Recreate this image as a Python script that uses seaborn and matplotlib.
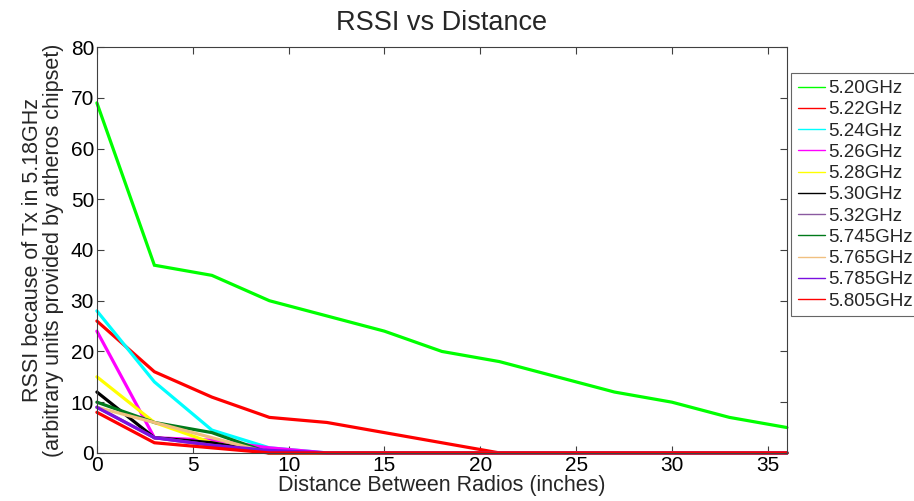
import matplotlib
matplotlib.use("Agg")
import matplotlib.pyplot as plt
from matplotlib.lines import Line2D
import seaborn as sns
import pandas as pd

# Distance between radios (inches)
distance = [0, 3, 6, 9, 12, 15, 18, 21, 24, 27, 30, 33, 36]

# RSSI per channel, measured while transmitting on 5.18GHz
rssi_520 = [69, 37, 35, 30, 27, 24, 20, 18, 15, 12, 10, 7, 5]
rssi_522 = [26, 16, 11, 7, 6, 4, 2, 0, 0, 0, 0, 0, 0]
rssi_524 = [28, 14, 4.5, 1, 0, 0, 0, 0, 0, 0, 0, 0, 0]
rssi_526 = [24, 3, 2.5, 1, 0, 0, 0, 0, 0, 0, 0, 0, 0]
rssi_528 = [15, 6, 2, 0, 0, 0, 0, 0, 0, 0, 0, 0, 0]
rssi_530 = [12, 3, 2, 0, 0, 0, 0, 0, 0, 0, 0, 0, 0]
rssi_532 = [9, 3, 1.5, 0, 0, 0, 0, 0, 0, 0, 0, 0, 0]
rssi_5745 = [10, 6, 4, 0, 0, 0, 0, 0, 0, 0, 0, 0, 0]
rssi_5765 = [9, 6, 3, 0, 0, 0, 0, 0, 0, 0, 0, 0, 0]
rssi_5785 = [9, 3, 1.5, 0.5, 0, 0, 0, 0, 0, 0, 0, 0, 0]
rssi_5805 = [8, 2, 1, 0, 0, 0, 0, 0, 0, 0, 0, 0, 0]

channels = ["5.20GHz", "5.22GHz", "5.24GHz", "5.26GHz", "5.28GHz", "5.30GHz",
            "5.32GHz", "5.745GHz", "5.765GHz", "5.785GHz", "5.805GHz"]
series = [rssi_520, rssi_522, rssi_524, rssi_526, rssi_528, rssi_530,
          rssi_532, rssi_5745, rssi_5765, rssi_5785, rssi_5805]
colors = ["#00ff00", "#ff0000", "#00ffff", "#ff00ff", "#ffff00", "#000000",
          "#8a5aa0", "#007a1a", "#f0c080", "#7a10e0", "#ff0000"]

rows = []
for ch, vals in zip(channels, series):
    for d, v in zip(distance, vals):
        rows.append({"Distance": d, "RSSI": v, "Channel": ch})
df = pd.DataFrame(rows)

sns.set_theme(style="white")
plt.rcParams["font.family"] = ["Liberation Sans", "DejaVu Sans"]

fig = plt.figure(figsize=(9.14, 5.01), dpi=100)
ax = fig.add_axes([0.106, 0.096, 0.755, 0.810])

sns.lineplot(data=df, x="Distance", y="RSSI", hue="Channel",
             hue_order=channels, palette=dict(zip(channels, colors)),
             linewidth=2.3, legend=False, ax=ax, estimator=None, sort=False)
for ln in ax.get_lines():
    ln.set_clip_on(False)
    ln.set_solid_joinstyle("miter")

ax.set_xlim(0, 36)
ax.set_ylim(0, 80)
ax.set_xticks(range(0, 40, 5))
ax.set_yticks(range(0, 90, 10))
for s in ax.spines.values():
    s.set_color("#404040")
    s.set_linewidth(0.8)
ax.tick_params(direction="in", length=5, width=0.8, color="#404040",
               top=True, right=True, bottom=True, left=True,
               labelsize=15, pad=2, labelcolor="black")

ax.set_title("RSSI vs Distance", fontsize=19.5, pad=12)
ax.set_xlabel("Distance Between Radios (inches)", fontsize=15.5, labelpad=0)
ax.set_ylabel("RSSI because of Tx in 5.18GHz\n(arbitrary units provided by atheros chipset)",
              fontsize=15.5, labelpad=5, linespacing=1.0)

handles = [Line2D([0], [0], color=c, lw=1.0) for c in colors]
leg = ax.legend(handles, channels, loc="upper left", bbox_to_anchor=(1.006, 0.935),
                fontsize=13.5, frameon=True, fancybox=False, handlelength=1.45,
                handletextpad=0.2, labelspacing=0.22, borderpad=0.35,
                borderaxespad=0)
leg.get_frame().set_edgecolor("#404040")
leg.get_frame().set_linewidth(0.8)

fig.savefig("out.png", dpi=100, facecolor="white")
